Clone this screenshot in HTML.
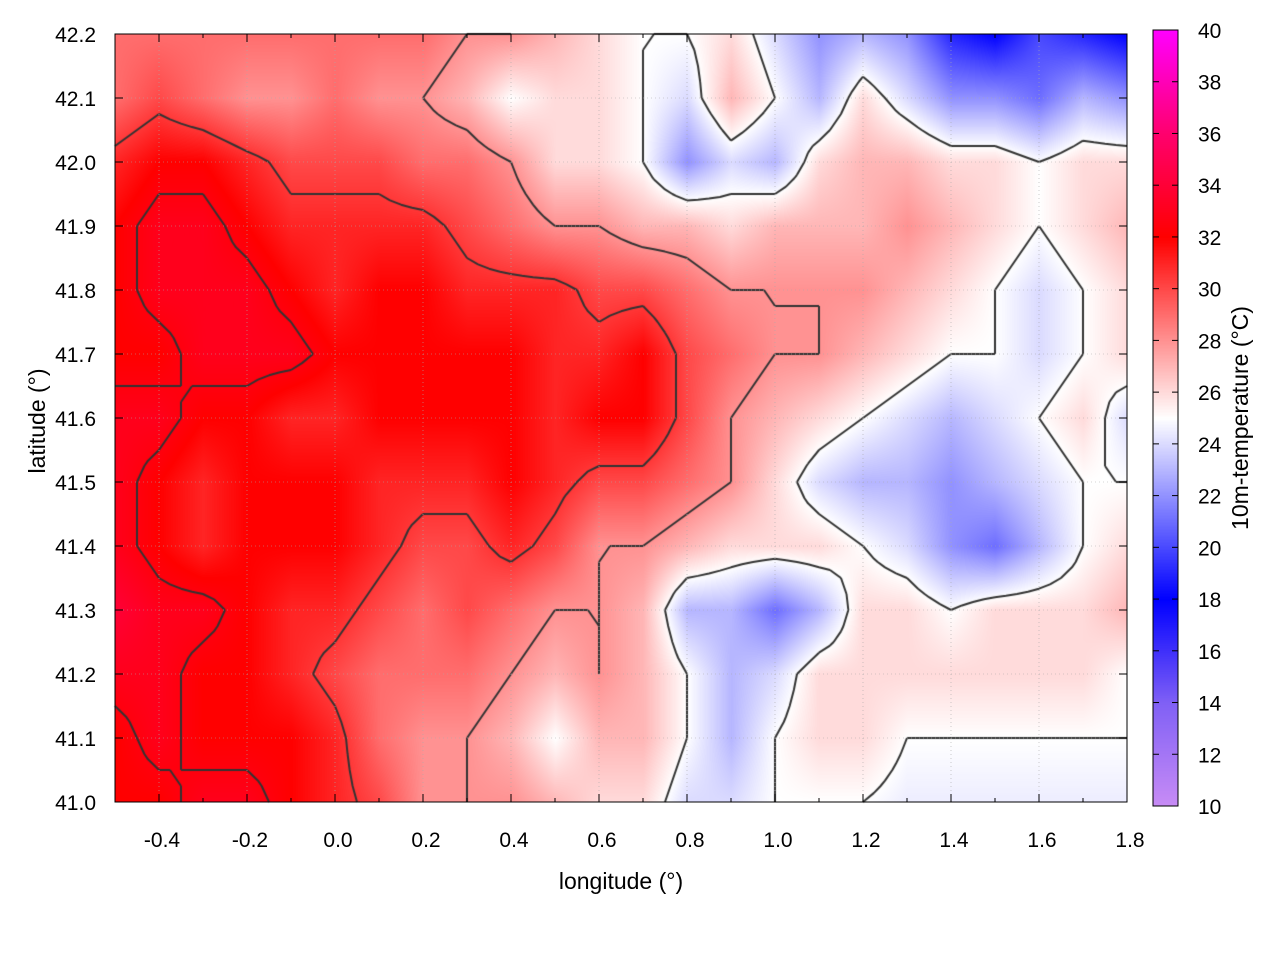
<!DOCTYPE html>
<html><head><meta charset="utf-8"><style>
body{margin:0;background:#fff;font-family:"Liberation Sans",sans-serif;}
#wrap{position:relative;width:1280px;height:960px;}
canvas{position:absolute;left:0;top:0;}
</style></head><body>
<div id="wrap">
<canvas id="c" width="1280" height="960"></canvas>
<svg id="s" width="1280" height="960" style="position:absolute;left:0;top:0"></svg>
</div>
<script>
const lons=[-0.5,-0.4,-0.3,-0.2,-0.1,0.0,0.1,0.2,0.3,0.4,0.5,0.6,0.7,0.8,0.9,1.0,1.1,1.2,1.3,1.4,1.5,1.6,1.7,1.8];
const lats=[42.2,42.1,42.0,41.9,41.8,41.7,41.6,41.5,41.4,41.3,41.2,41.1,41.0];
const temps=[
[29,29,29,29,29,29,29,29,28,28,27,26,25,25,26,24,22,23,22,19,18,20,19,18],
[29,30,29,28,28,29,28,28,27,25,26,26,25,24,27,25,23,26,24,22,22,21,23,22],
[31,32,32,31,30,30,30,29,29,28,26,26,25,22,24,23,26,27,27,26,26,25,26,26],
[32,33,33,32,31,31,31,31,30,29,28,28,27,27,26,27,27,27,28,27,26,25,26,27],
[32,33,33,33,32,31,32,32,31,31,31,30,30,29,28,28,28,28,27,26,25,24,25,26],
[32,32,33,33,33,32,32,32,32,32,31,31,32,30,29,28,28,27,26,25,25,24,25,26],
[33,33,32,32,31,31,32,32,32,32,31,32,32,30,28,27,26,25,24,23,24,25,26,24],
[33,32,31,32,32,32,31,31,31,32,31,30,30,29,28,26,24,23,23,22,23,24,25,25],
[33,32,31,32,32,32,31,30,30,31,30,28,28,27,26,26,26,25,24,22,21,23,25,26],
[34,33,33,32,31,31,30,29,30,29,28,28,27,23,23,21,23,26,26,25,26,26,26,27],
[33,33,32,32,31,30,29,29,29,28,27,28,27,25,23,24,26,26,26,26,26,26,26,25],
[32,33,32,32,32,31,29,28,28,27,25,27,27,25,23,25,26,26,25,25,25,25,25,25],
[32,32,33,33,32,31,30,28,28,28,27,26,26,24,24,25,25,25,24.5,24.5,24.5,24.5,24.5,24.5]];
const contourLevels=[25,28,30.5,32.5];
const xTicks=[-0.4,-0.2,0.0,0.2,0.4,0.6,0.8,1.0,1.2,1.4,1.6,1.8];
const yTicks=[41.0,41.1,41.2,41.3,41.4,41.5,41.6,41.7,41.8,41.9,42.0,42.1,42.2];
const cbTicks=[10,12,14,16,18,20,22,24,26,28,30,32,34,36,38,40];

const L=115,R=1127,T=34,B=802;
const xs=v=>L+(v+0.5)/2.3*(R-L);
const ys=v=>T+(42.2-v)/1.2*(B-T);
const CB={x:1153,w:25,t:30,b:806};
const cbY=v=>CB.b-(v-10)/30*(CB.b-CB.t);
const stops=[[10,[200,140,245]],[14,[128,96,245]],[18,[0,0,255]],[25,[255,255,255]],[32,[255,0,0]],[36,[255,0,110]],[40,[255,0,255]]];
function col(v){v=Math.max(10,Math.min(40,v));for(let i=0;i<stops.length-1;i++){const a=stops[i],b=stops[i+1];if(v<=b[0]){const f=(v-a[0])/(b[0]-a[0]);return a[1].map((c,k)=>Math.round(c+(b[1][k]-c)*f));}}return stops[stops.length-1][1];}
function val(lon,lat){let fx=(lon+0.5)/0.1,fy=(42.2-lat)/0.1;fx=Math.max(0,Math.min(lons.length-1.0001,fx));fy=Math.max(0,Math.min(lats.length-1.0001,fy));const i=Math.floor(fx),j=Math.floor(fy),u=fx-i,w=fy-j;const a=temps[j][i],b=temps[j][i+1],c=temps[j+1][i],d=temps[j+1][i+1];
return a*(1-u)*(1-w)+b*u*(1-w)+c*(1-u)*w+d*u*w;}
const cv=document.getElementById('c'),ctx=cv.getContext('2d');
const img=ctx.createImageData(R-L,B-T);
for(let py=0;py<B-T;py++)for(let px=0;px<R-L;px++){const lon=-0.5+px/(R-L)*2.3,lat=42.2-py/(B-T)*1.2;const c=col(val(lon,lat));const k=(py*(R-L)+px)*4;img.data[k]=c[0];img.data[k+1]=c[1];img.data[k+2]=c[2];img.data[k+3]=255;}
ctx.putImageData(img,L,T);
for(let y=CB.t;y<CB.b;y++){const c=col(10+(CB.b-y)/(CB.b-CB.t)*30);ctx.fillStyle=`rgb(${c})`;ctx.fillRect(CB.x,y,CB.w,1);}
ctx.strokeStyle='#333';ctx.lineWidth=2;
const N=4,nx=(lons.length-1)*N+1,ny=(lats.length-1)*N+1;
const G=[];for(let j=0;j<ny;j++){G[j]=[];for(let i=0;i<nx;i++)G[j][i]=val(-0.5+i*0.1/N,42.2-j*0.1/N);}
const gx=i=>xs(-0.5+i*0.1/N),gy=j=>ys(42.2-j*0.1/N);
contourLevels.forEach(lv=>{ctx.beginPath();for(let j=0;j<ny-1;j++)for(let i=0;i<nx-1;i++){const v=[G[j][i],G[j][i+1],G[j+1][i+1],G[j+1][i]];const p=[[i,j],[i+1,j],[i+1,j+1],[i,j+1]];const pts=[];for(let e=0;e<4;e++){const a=v[e],b=v[(e+1)%4];if((a<lv)!==(b<lv)){const f=(lv-a)/(b-a);const A=p[e],Bp=p[(e+1)%4];pts.push([gx(A[0]+(Bp[0]-A[0])*f),gy(A[1]+(Bp[1]-A[1])*f)]);}}for(let k=0;k+1<pts.length;k+=2){ctx.moveTo(pts[k][0],pts[k][1]);ctx.lineTo(pts[k+1][0],pts[k+1][1]);}}ctx.stroke();});

const S=document.getElementById('s');const NS='http://www.w3.org/2000/svg';
function mk(t,a,txt){const e=document.createElementNS(NS,t);for(const k in a)e.setAttribute(k,a[k]);if(txt!==undefined)e.textContent=txt;S.appendChild(e);return e;}
xTicks.forEach(v=>{const x=xs(v);
const g=mk('line',{x1:x,x2:x,y1:T,y2:B,stroke:'#aaa','stroke-width':0.6,'stroke-dasharray':'1,3'});
mk('line',{x1:x,x2:x,y1:B,y2:B-8,stroke:'#000'});mk('line',{x1:x,x2:x,y1:T,y2:T+8,stroke:'#000'});
const t=mk('text',{x:x+3,y:847,'text-anchor':'middle','font-size':21,fill:'#000'},v.toFixed(1));});
xTicks.forEach(v=>{const x=xs(v-0.1);mk('line',{x1:x,x2:x,y1:B,y2:B-4,stroke:'#000'});mk('line',{x1:x,x2:x,y1:T,y2:T+4,stroke:'#000'});});
yTicks.forEach(v=>{const y=ys(v);
const g=mk('line',{x1:L,x2:R,y1:y,y2:y,stroke:'#aaa','stroke-width':0.6,'stroke-dasharray':'1,3'});
mk('line',{x1:L,x2:L+8,y1:y,y2:y,stroke:'#000'});mk('line',{x1:R,x2:R-8,y1:y,y2:y,stroke:'#000'});
const t=mk('text',{x:96,y:y+8,'text-anchor':'end','font-size':21,fill:'#000'},v.toFixed(1));});
const fr=mk('rect',{x:L,y:T,width:R-L,height:B-T,fill:'none',stroke:'#000','stroke-width':1});
const cf=mk('rect',{x:CB.x,y:CB.t,width:CB.w,height:CB.b-CB.t,fill:'none',stroke:'#000','stroke-width':1});
cbTicks.forEach(v=>{const y=cbY(v);mk('line',{x1:CB.x,x2:CB.x+6,y1:y,y2:y,stroke:'#000'});mk('line',{x1:CB.x+CB.w,x2:CB.x+CB.w-6,y1:y,y2:y,stroke:'#000'});
const t=mk('text',{x:1198,y:y+8,'font-size':21,fill:'#000'},String(v));});
const xl=mk('text',{x:621,y:889,'text-anchor':'middle','font-size':23,fill:'#000'},'longitude (°)');
const yl=mk('text',{x:0,y:0,'text-anchor':'middle','font-size':23,fill:'#000',transform:'translate(45,421) rotate(-90)'},'latitude (°)');
const cl=mk('text',{x:0,y:0,'text-anchor':'middle','font-size':23,fill:'#000',transform:'translate(1248,418) rotate(-90)'},'10m-temperature (°C)');
</script>
</body></html>
